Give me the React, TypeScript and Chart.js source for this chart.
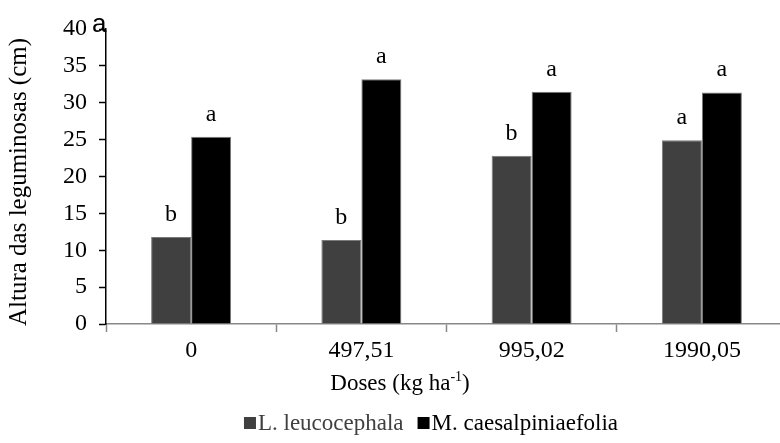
import React, { useEffect, useRef } from "react";
import { Chart, registerables } from "chart.js";

Chart.register(...registerables);

const categories = ["0", "497,51", "995,02", "1990,05"];
const seriesNames = ["L. leucocephala", "M. caesalpiniaefolia"];
const leucocephala = [11.8, 11.4, 22.8, 24.9];
const caesalpiniaefolia = [25.4, 33.2, 31.5, 31.4];
const lettersL = ["b", "b", "b", "a"];
const lettersM = ["a", "a", "a", "a"];
const yTicks = { min: 0, max: 40, step: 5 };

const SERIF = '"Liberation Serif", "Times New Roman", serif';
const FS = 24;

const textPlugin = {
  id: "textPlugin",
  afterDatasetsDraw(chart: any) {
    const ctx = chart.ctx;
    ctx.save();
    ctx.fillStyle = "#000";
    ctx.font = `${FS}px ${SERIF}`;
    ctx.textAlign = "center";
    ctx.textBaseline = "alphabetic";
    const letters = [lettersL, lettersM];
    chart.data.datasets.forEach((_: any, di: number) => {
      const meta = chart.getDatasetMeta(di);
      meta.data.forEach((el: any, i: number) => {
        ctx.fillText(letters[di][i], el.x, el.y - 16);
      });
    });

    // y title
    ctx.save();
    ctx.translate(19, 182);
    ctx.rotate(-Math.PI / 2);
    ctx.textBaseline = "middle";
    ctx.font = `25px ${SERIF}`;
    ctx.fillText("Altura das leguminosas (cm)", 0, 0);
    ctx.restore();

    // x title with superscript
    const XF = 23;
    const base = "Doses (kg ha";
    const sup = "-1";
    const end = ")";
    ctx.font = `${XF}px ${SERIF}`;
    const wBase = ctx.measureText(base).width;
    const wEnd = ctx.measureText(end).width;
    ctx.font = `${Math.round(XF * 0.62)}px ${SERIF}`;
    const wSup = ctx.measureText(sup).width;
    const total = wBase + wSup + wEnd;
    let x = 400 - total / 2;
    const yb = 390;
    ctx.textAlign = "left";
    ctx.font = `${XF}px ${SERIF}`;
    ctx.fillText(base, x, yb);
    x += wBase;
    ctx.font = `${Math.round(XF * 0.62)}px ${SERIF}`;
    ctx.fillText(sup, x, yb - 9);
    x += wSup;
    ctx.font = `${XF}px ${SERIF}`;
    ctx.fillText(end, x, yb);

    // legend
    ctx.font = `23px ${SERIF}`;
    const colors = ["#404040", "#000000"];
    const textColors = ["#404040", "#000000"];
    const box = 12;
    const gapBoxText = 2;
    const gapItems = 14;
    const widths = seriesNames.map((n) => ctx.measureText(n).width);
    const totalL = widths.reduce((a, w) => a + box + gapBoxText + w, 0) + gapItems;
    let lx = 431 - totalL / 2;
    const ly = 424;
    seriesNames.forEach((n, i) => {
      ctx.fillStyle = colors[i];
      ctx.fillRect(lx, ly - box / 2 - 1, box, box);
      lx += box + gapBoxText;
      ctx.fillStyle = textColors[i];
      ctx.textBaseline = "middle";
      ctx.fillText(n, lx, ly);
      lx += widths[i] + gapItems;
    });

    // panel label
    ctx.fillStyle = "#000";
    ctx.font = `26px "Liberation Sans", Arial, sans-serif`;
    ctx.textAlign = "left";
    ctx.textBaseline = "alphabetic";
    ctx.fillText("a", 92, 32);
    ctx.restore();
  },
};

export default function App() {
  const ref = useRef<HTMLCanvasElement | null>(null);
  useEffect(() => {
    document.body.style.overflow = "hidden";
    const chart = new Chart(ref.current as HTMLCanvasElement, {
      type: "bar",
      data: {
        labels: categories,
        datasets: [
          {
            label: seriesNames[0],
            data: leucocephala,
            backgroundColor: "#404040",
            borderColor: "#7a7a7a",
            borderWidth: 1,
            categoryPercentage: 0.47,
            barPercentage: 1,
          },
          {
            label: seriesNames[1],
            data: caesalpiniaefolia,
            backgroundColor: "#000000",
            borderColor: "#7a7a7a",
            borderWidth: 1,
            categoryPercentage: 0.47,
            barPercentage: 1,
          },
        ],
      },
      options: {
        responsive: false,
        animation: false,
        layout: { padding: { left: 0, right: 13, top: 29, bottom: 0 } },
        plugins: {
          legend: { display: false },
          tooltip: { enabled: false },
        },
        scales: {
          x: {
            grid: {
              offset: true,
              drawOnChartArea: false,
              tickLength: 8,
              tickColor: "#888888",
              tickWidth: 1.5,
            },
            border: { color: "#888888", width: 1.5 },
            ticks: {
              font: { family: SERIF, size: FS },
              color: "#000",
              padding: 4,
              maxRotation: 0,
            },
            afterFit: (s: any) => {
              s.height = 119;
            },
          },
          y: {
            min: yTicks.min,
            max: yTicks.max,
            ticks: {
              stepSize: yTicks.step,
              font: { family: SERIF, size: FS },
              color: "#000",
              padding: 12,
            },
            grid: {
              drawOnChartArea: false,
              tickLength: 7,
              tickColor: "#000",
              tickWidth: 1.5,
            },
            border: { color: "#000", width: 1.5 },
            afterFit: (s: any) => {
              s.width = 106;
            },
          },
        },
      },
      plugins: [textPlugin],
    });
    return () => chart.destroy();
  }, []);
  return (
    <div style={{ position: "fixed", left: 0, top: 0, width: 780, height: 443, overflow: "hidden", background: "#fff" }}>
      <canvas ref={ref} width={800} height={443} style={{ display: "block" }} />
    </div>
  );
}
